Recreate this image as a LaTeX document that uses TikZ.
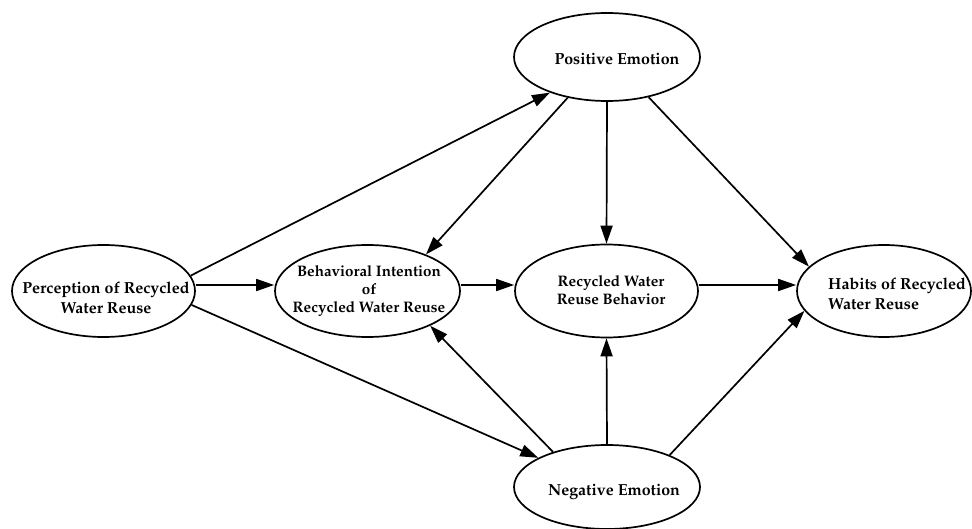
\documentclass[tikz,border=0pt]{standalone}
\usepackage[T1]{fontenc}
\renewcommand{\rmdefault}{ppl}
\usetikzlibrary{shapes.geometric,arrows.meta}
\begin{document}
\begin{tikzpicture}[x=1pt,y=-1pt,
  ell/.style={ellipse,draw,line width=1.7pt,inner sep=0pt},
  lbl/.style={inner sep=0pt,align=center,font=\fontsize{16}{20}\selectfont\bfseries},
  lbls/.style={lbl,font=\fontsize{15.2}{18}\selectfont\bfseries},
  conn/.style={line width=1.7pt,-{Triangle[length=18pt,width=12pt]}}]
\useasboundingbox (0,0) rectangle (972,529);
% ellipses
\node[ell,minimum width=183pt,minimum height=92pt] (per) at (103.5,291) {};
\node[ell,minimum width=185pt,minimum height=92pt] (bi) at (367.5,291) {};
\node[ell,minimum width=183pt,minimum height=93pt] (rwb) at (606.5,291) {};
\node[ell,minimum width=174pt,minimum height=92pt] (hab) at (884,291) {};
\node[ell,minimum width=186pt,minimum height=88pt] (pos) at (607,57) {};
\node[ell,minimum width=186pt,minimum height=84pt] (neg) at (607,487) {};
% texts
\node[lbl] (pert) at (106,298) {Perception of Recycled\\Water Reuse};
\node[lbls] (bit) at (369,291) {Behavioral Intention\\of\\Recycled Water Reuse};
\node[lbls] (rwbt) at (611,290) {Recycled Water\\Reuse Behavior};
\node[lbl,align=left,anchor=west] (habt) at (828,294) {Habits of Recycled\\Water Reuse};
\node[lbl,anchor=base] (post) at (617,65) {Positive Emotion};
\node[lbl,anchor=base] (negt) at (614,495) {Negative Emotion};
% connectors
\draw[conn] (per.10) -- (pos.212);
\draw[conn] ([yshift=6pt]per.east) -- ([yshift=6pt]bi.west);
\draw[conn] (per.-9) -- (neg.157);
\draw[conn] (pos.226) -- (bi.32);
\draw[conn] (pos.south) -- (rwb.north);
\draw[conn] (pos.-44) -- (hab.162);
\draw[conn] ([yshift=6pt]bi.east) -- ([yshift=6pt]rwb.west);
\draw[conn] ([yshift=6pt]rwb.east) -- ([yshift=6pt]hab.west);
\draw[conn] (neg.147) -- (bi.-29);
\draw[conn] (neg.north) -- (rwb.south);
\draw[conn] (neg.27) -- (hab.194);
\end{tikzpicture}
\end{document}
